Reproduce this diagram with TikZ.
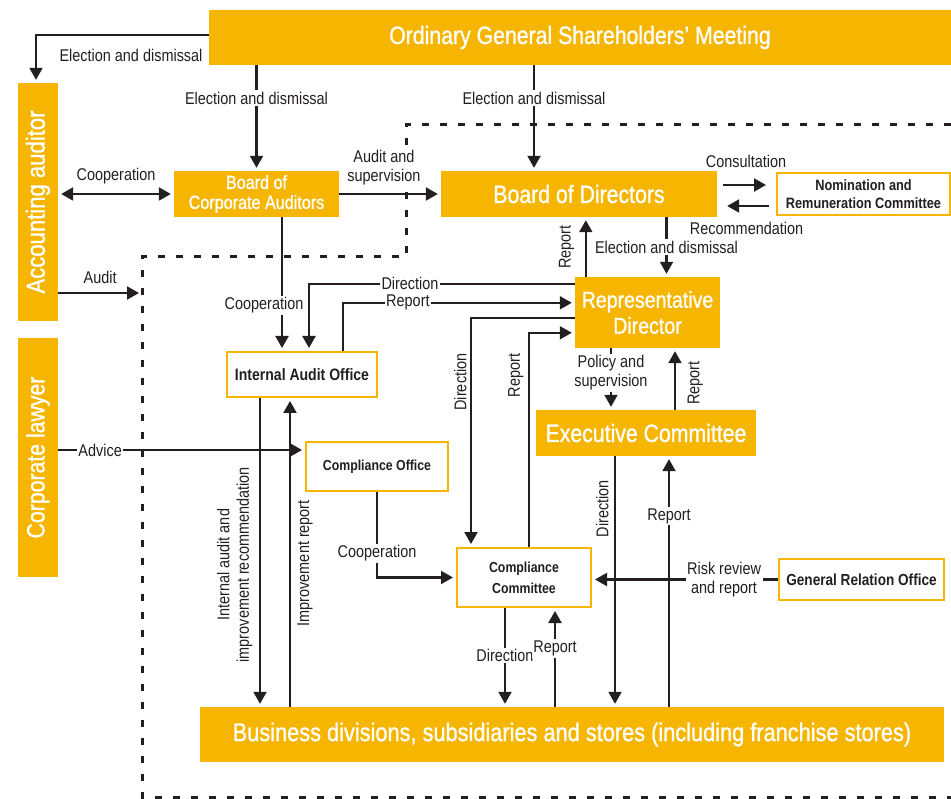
\documentclass[tikz,border=0pt]{standalone}
\usepackage{fontspec}
\setmainfont{Liberation Sans}[FakeStretch=0.85]
\newfontfamily\boxfont{Liberation Sans}[FakeStretch=0.85, FakeBold=1]
\usetikzlibrary{arrows.meta}
\definecolor{amber}{RGB}{245,181,0}
\definecolor{ink}{RGB}{35,31,32}
\tikzset{
    every node/.style={inner sep=0pt, align=center},
    solidbox/.style={rectangle, fill=amber, text=white, font=\boxfont\fontsize{25}{28}\selectfont},
    openbox/.style={rectangle, draw=amber, line width=2pt, fill=white, text=ink, font=\bfseries\fontsize{15}{18}\selectfont},
    lbl/.style={text=ink, inner sep=1.5pt, font=\fontsize{17}{19.5}\selectfont},
    wlbl/.style={lbl, fill=white},
    conn/.style={draw=ink, line width=2.1pt, -{Triangle[length=12pt,width=13pt]}, shorten >=3pt},
    twoway/.style={conn, {Triangle[length=12pt,width=13pt]}-{Triangle[length=12pt,width=13pt]}, shorten <=3pt},
    zone/.style={draw=ink, line width=3pt, dash pattern=on 7pt off 11pt}
}

\begin{document}
\begin{tikzpicture}[x=1pt, y=-1pt]
    \useasboundingbox (0,0) rectangle (951,799);

    \draw[zone] (951,125) -- (406,125) -- (406,257) -- (142,257) -- (142,797) -- (951,797);
    \coordinate (zin) at (142,293);

    \node (gsm) [solidbox, font=\boxfont\fontsize{25}{28}\selectfont, minimum width=742, minimum height=55] at (580,37.5) {Ordinary General Shareholders’ Meeting};
    \node (acc) [solidbox, font=\boxfont\fontsize{26}{28}\selectfont, minimum width=40, minimum height=238] at (38,202) {\rotatebox{90}{Accounting auditor}};
    \node (law) [solidbox, minimum width=40, minimum height=239] at (38,457.5) {\rotatebox{90}{Corporate lawyer}};
    \node (bca) [solidbox, font=\boxfont\fontsize{19}{20}\selectfont, minimum width=165, minimum height=46] at (256.5,194) {Board of\\Corporate Auditors};
    \node (bod) [solidbox, minimum width=276, minimum height=46] at (579,194) {Board of Directors};
    \node (nrc) [openbox, minimum width=173, minimum height=42] at (863.5,194) {Nomination and\\Remuneration Committee};
    \node (rep) [solidbox, font=\boxfont\fontsize{23}{26}\selectfont, minimum width=145, minimum height=71] at (647.5,312.5) {Representative\\Director};
    \node (exe) [solidbox, minimum width=220, minimum height=46] at (646,433) {Executive Committee};
    \node (iao) [openbox, font=\bfseries\fontsize{16.5}{18}\selectfont, minimum width=150, minimum height=45] at (302,374.5) {Internal Audit Office};
    \node (cof) [openbox, font=\bfseries\fontsize{14.5}{18}\selectfont, minimum width=142, minimum height=49] at (377,466.5) {Compliance Office};
    \node (ccm) [openbox, font=\bfseries\fontsize{14.5}{21}\selectfont, minimum width=134, minimum height=59] at (524,577.5) {Compliance\\Committee};
    \node (gro) [openbox, font=\bfseries\fontsize{16}{18}\selectfont, minimum width=165, minimum height=41] at (861.5,579.5) {General Relation Office};
    \node (bus) [solidbox, font=\boxfont\fontsize{25.6}{28}\selectfont, minimum width=744, minimum height=55] at (572,734.5) {Business divisions, subsidiaries and stores (including franchise stores)};

    % shareholders
    \draw[conn] ([yshift=2.5pt]gsm.west) -| ([xshift=-2pt]acc.north);
    \node (t1) [lbl] at (131,55) {Election and dismissal};
    \draw[conn] (bca.north |- gsm.south) -- node[wlbl, pos=.31] (t2) {Election and dismissal} (bca.north);
    \draw[conn] ([xshift=-45pt]bod.north |- gsm.south) -- node[wlbl, pos=.31] (t3) {Election and dismissal} ([xshift=-45pt]bod.north);

    % auditors
    \draw[twoway] (acc.east |- bca.west) -- node[lbl, above=7pt] (t4) {Cooperation} (bca.west);
    \draw[conn] (bca.east) -- node[wlbl, above=6pt, pos=.44] (t5) {Audit and\\supervision} (bod.west);
    \draw[conn] (acc.east |- zin) -- node[lbl, above=7pt] (t6) {Audit} (zin);
    \draw[conn] ([xshift=-20pt]iao.north |- bca.south) -- node[wlbl, pos=.66, xshift=-18pt] (t7) {Cooperation} ([xshift=-20pt]iao.north);

    % board of directors
    \draw[conn] ([xshift=6pt, yshift=9pt]bod.east) -- node[lbl, above=15pt] (t8) {Consultation} ([xshift=-7pt, yshift=9pt]nrc.west);
    \draw[conn] ([xshift=-7pt, yshift=-12pt]nrc.west) -- node[lbl, below=14pt] (t9) {Recommendation} ([xshift=7pt, yshift=-12pt]bod.east);
    \draw[conn] ([xshift=11pt]rep.north west) -- node[lbl, rotate=90, above=9pt] (t10) {Report} ([xshift=11pt]rep.north west |- bod.south);
    \draw[conn] ([xshift=19pt]rep.north |- bod.south) -- node[wlbl] (t11) {Election and dismissal} ([xshift=19pt]rep.north);

    % representative director
    \draw[conn] ([yshift=-7pt]rep.north west) -| node[wlbl, pos=.31] (t12) {Direction} ([xshift=7pt]iao.north);
    \draw[conn] ([xshift=41pt]iao.north) |- node[wlbl, pos=.64] (t13) {Report} ([yshift=-26pt]rep.north west);
    \draw[conn] ([yshift=-41pt]rep.north west) -| node[lbl, rotate=90, above=2pt, pos=.64] (t14) {Direction} ([xshift=-53pt]ccm.north);
    \draw[conn] ([xshift=5pt]ccm.north) |- node[lbl, rotate=90, above=3pt, pos=.4] (t15) {Report} ([yshift=-56pt]rep.north west);
    \draw[conn] ([xshift=-36.5pt]rep.south) -- node[wlbl, pos=.4] (t16) {Policy and\\supervision} ([xshift=-36.5pt]rep.south |- exe.north);
    \draw[conn] ([xshift=27.5pt]rep.south |- exe.north) -- node[lbl, rotate=90, below=10pt, pos=.43] (t17) {Report} ([xshift=27.5pt]rep.south);

    % internal audit
    \draw[conn] ([xshift=-42pt]iao.south) -- node[lbl, rotate=90, above=5pt, pos=.54] (t18) {Internal audit and\\improvement recommendation} ([xshift=-42pt]iao.south |- bus.north);
    \draw[conn] ([xshift=-12pt]iao.south |- bus.north) -- node[lbl, rotate=90, below=5pt, pos=.465] (t19) {Improvement report} ([xshift=-12pt]iao.south);

    % compliance
    \draw[conn] ([yshift=-9pt]law.east |- cof.north west) -- node[wlbl, pos=.17] (t20) {Advice} ([yshift=-9pt]cof.north west);
    \draw[conn] (cof.south) |- node[wlbl, pos=.36] (t21) {Cooperation} (ccm.west);
    \draw[conn] (gro.west) -- node[wlbl, pos=.29] (t22) {Risk review\\and report} (gro.west -| ccm.east);
    \draw[conn] ([xshift=-19pt]ccm.south) -- node[wlbl, pos=.48] (t23) {Direction} ([xshift=-19pt]ccm.south |- bus.north);
    \draw[conn] ([xshift=31pt]ccm.south |- bus.north) -- node[wlbl, pos=.59] (t24) {Report} ([xshift=31pt]ccm.south);

    % executive committee
    \draw[conn] ([xshift=-31pt]exe.south) -- node[lbl, rotate=90, above=4pt, pos=.21] (t25) {Direction} ([xshift=-31pt]exe.south |- bus.north);
    \draw[conn] ([xshift=23pt]exe.south |- bus.north) -- node[wlbl, pos=.76] (t26) {Report} ([xshift=23pt]exe.south);
\end{tikzpicture}
\end{document}
